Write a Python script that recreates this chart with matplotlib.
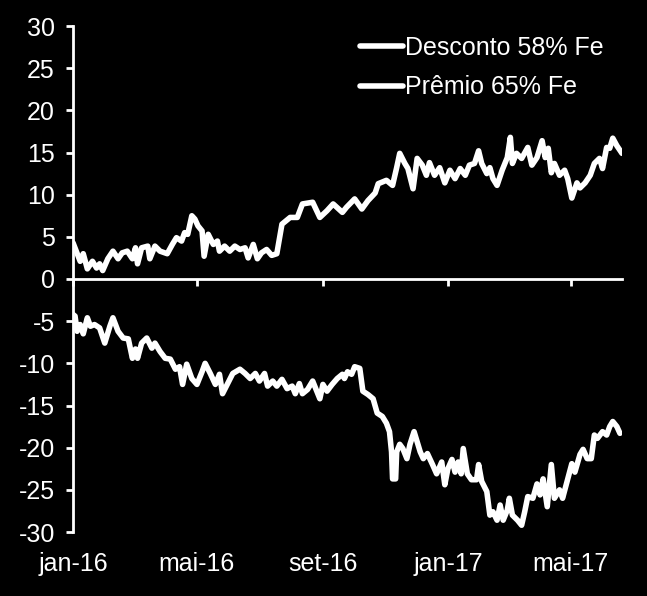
import matplotlib
matplotlib.use("Agg")
import matplotlib.pyplot as plt
import matplotlib.transforms as mtransforms
import pandas as pd

# ---- data (days since 2016-01-01, values in US$/t) ----
premio_days = [0, 7, 10, 14, 19, 23, 26, 29, 34, 39, 44, 48, 53, 58, 61, 63, 67, 73, 75, 80,
               85, 92, 97, 101, 106, 109, 112, 116, 119, 122, 126, 128, 132, 137, 141, 143, 148, 153, 158, 163,
               168, 171, 176, 180, 184, 189, 194, 199, 204, 212, 219, 224, 234, 241, 248, 254, 263, 267, 275, 282,
               288, 295, 298, 306, 312, 316, 319, 324, 327, 332, 336, 341, 345, 348, 353, 358, 363, 368, 373, 378,
               383, 387, 392, 396, 399, 404, 407, 410, 414, 419, 424, 427, 429, 433, 438, 444, 448, 453, 458, 461,
               464, 467, 470, 475, 480, 483, 487, 492, 495, 500, 505, 509, 514, 517, 521, 524, 527, 531, 536]
premio_vals = [4.3, 2.1, 3.0, 1.2, 2.1, 1.3, 1.8, 1.0, 2.4, 3.3, 2.4, 3.1, 3.3, 2.4, 3.7, 1.8, 3.7, 3.9, 2.4, 3.9,
               3.3, 3.0, 4.1, 4.9, 4.5, 5.5, 5.3, 7.5, 7.1, 6.3, 5.7, 2.7, 5.3, 4.1, 4.5, 3.3, 3.9, 3.3, 3.9, 3.5,
               3.7, 2.5, 4.1, 2.4, 3.1, 3.5, 2.8, 3.0, 6.5, 7.3, 7.3, 8.9, 9.1, 7.3, 8.1, 8.9, 7.9, 8.5, 9.5, 8.3,
               9.3, 10.2, 11.3, 11.7, 11.1, 13.2, 14.9, 13.7, 13.1, 10.7, 14.3, 13.5, 12.3, 13.8, 12.3, 13.2, 11.4, 12.9, 11.9, 13.1,
               12.3, 13.5, 13.7, 15.2, 13.7, 12.5, 13.2, 11.9, 11.1, 12.9, 14.4, 16.8, 13.7, 14.9, 14.3, 15.6, 13.5, 14.4, 16.4, 14.4,
               15.5, 12.6, 13.7, 12.3, 12.9, 11.9, 9.6, 11.4, 10.8, 11.4, 12.3, 13.7, 14.3, 13.1, 15.6, 15.5, 16.7, 15.8, 14.9]

desconto_days = [0, 2, 4, 7, 10, 14, 17, 21, 26, 31, 36, 39, 44, 49, 54, 58, 61, 63, 67, 72,
                 77, 80, 85, 90, 95, 100, 104, 107, 111, 116, 121, 126, 129, 134, 139, 143, 146, 151, 156, 163,
                 168, 173, 178, 182, 187, 190, 195, 199, 204, 209, 214, 217, 221, 224, 229, 234, 238, 241, 244, 248,
                 253, 258, 263, 265, 268, 272, 275, 280, 283, 288, 293, 297, 302, 306, 309, 311, 312, 315, 316, 319,
                 322, 326, 329, 333, 336, 339, 342, 346, 351, 355, 360, 363, 366, 370, 373, 376, 379, 381, 385, 389,
                 394, 396, 399, 404, 407, 410, 414, 417, 420, 424, 426, 429, 434, 438, 441, 444, 449, 453, 456, 459,
                 463, 467, 470, 475, 478, 483, 487, 490, 495, 498, 502, 506, 509, 512, 517, 521, 524, 527, 531, 534]
desconto_vals = [-4.2, -4.4, -6.2, -5.4, -6.5, -4.6, -5.6, -5.4, -5.8, -7.6, -5.6, -4.6, -6.2, -7.0, -7.1, -9.4, -8.3, -9.4, -7.6, -7.0,
                 -8.2, -7.6, -8.6, -9.4, -9.5, -10.7, -10.4, -12.5, -10.1, -11.8, -12.5, -11.0, -10.0, -11.2, -12.5, -11.3, -13.6, -12.4, -11.2, -10.7,
                 -11.2, -11.8, -11.2, -12.1, -11.2, -12.7, -12.1, -12.7, -11.9, -13.0, -12.7, -13.6, -12.4, -13.6, -13.1, -12.1, -13.3, -14.2, -12.5, -13.3,
                 -12.5, -11.8, -11.3, -11.8, -11.0, -11.3, -10.4, -10.6, -13.3, -13.7, -14.2, -15.9, -16.3, -17.1, -18.1, -20.5, -23.7, -23.7, -20.5, -19.6,
                 -20.1, -21.3, -19.6, -18.1, -19.3, -20.5, -21.3, -20.7, -22.0, -23.1, -21.7, -24.4, -22.5, -21.4, -22.9, -21.7, -23.1, -20.1, -23.1, -23.8,
                 -23.8, -22.0, -24.0, -25.2, -28.0, -27.6, -28.6, -26.8, -28.6, -27.4, -26.0, -28.0, -28.6, -29.2, -27.6, -25.8, -26.0, -24.3, -25.6, -23.7,
                 -27.0, -22.0, -26.0, -25.0, -26.0, -23.7, -21.9, -22.9, -20.8, -20.2, -21.3, -21.3, -18.5, -18.9, -18.1, -18.5, -17.5, -16.9, -17.5, -18.3]

series_labels = ["Desconto 58% Fe", "Prêmio 65% Fe"]
tick_dates = ["2016-01-01", "2016-05-01", "2016-09-01", "2017-01-01", "2017-05-01"]
tick_labels = ["jan-16", "mai-16", "set-16", "jan-17", "mai-17"]
y_ticks = list(range(-30, 31, 5))

start = pd.Timestamp("2016-01-01")
premio_x = [start + pd.Timedelta(days=d) for d in premio_days]
desconto_x = [start + pd.Timedelta(days=d) for d in desconto_days]

plt.rcParams['font.family'] = ['Liberation Sans', 'DejaVu Sans']
plt.rcParams['axes.unicode_minus'] = False
FS = 18

fig = plt.figure(figsize=(6.47, 5.96), dpi=100, facecolor='black')
ax = fig.add_axes([73 / 647, 1 - 532 / 596, (622 - 73) / 647, (532 - 26) / 596])
ax.set_facecolor('black')

lw = 4.0
ax.plot(desconto_x, desconto_vals, color='white', lw=lw, label=series_labels[0],
        solid_joinstyle='round', solid_capstyle='round')
ax.plot(premio_x, premio_vals, color='white', lw=lw, label=series_labels[1],
        solid_joinstyle='round', solid_capstyle='round')

ax.set_xlim(start, start + pd.Timedelta(days=536))
ax.set_ylim(-30, 30)
ax.set_yticks(y_ticks)
ax.set_yticklabels([str(v) for v in y_ticks])

for s in ['top', 'right']:
    ax.spines[s].set_visible(False)
ax.spines['left'].set_color('white')
ax.spines['left'].set_linewidth(2)
ax.spines['bottom'].set_color('white')
ax.spines['bottom'].set_linewidth(2)
ax.spines['bottom'].set_position(('data', 0))

tick_x = [pd.Timestamp(t) for t in tick_dates]
ax.set_xticks(tick_x)
ax.tick_params(axis='x', direction='out', length=5, width=2, color='white', labelbottom=False)
ax.tick_params(axis='y', direction='out', length=5, width=2, color='white', labelcolor='white',
               labelsize=FS, pad=8)

trans = mtransforms.blended_transform_factory(ax.transData, ax.transAxes)
for tx, tl in zip(tick_x, tick_labels):
    ax.text(tx, -0.04, tl, transform=trans, ha='center', va='top', color='white', fontsize=FS)

leg = ax.legend(loc='upper right', bbox_to_anchor=(0.985, 1.0), frameon=False, fontsize=FS,
                labelcolor='white', handlelength=1.7, handletextpad=0.1, labelspacing=0.62,
                borderaxespad=0.0)

fig.savefig("out.png", dpi=100, facecolor='black')
